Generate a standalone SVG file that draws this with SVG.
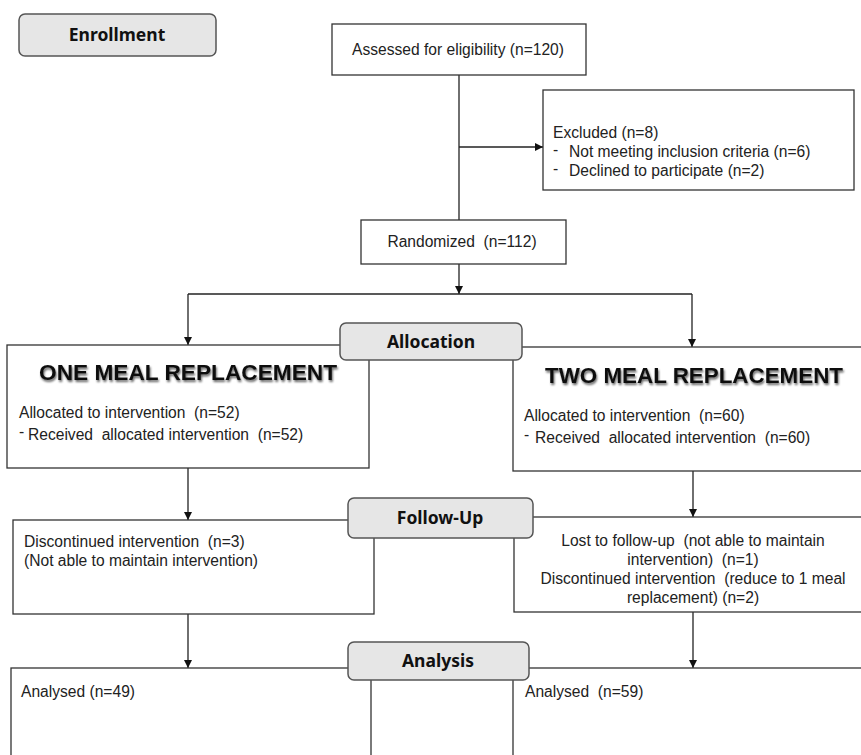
<svg xmlns="http://www.w3.org/2000/svg" width="861" height="755" viewBox="0 0 861 755" xml:space="preserve">
<defs>
<marker id="arr" markerWidth="8" markerHeight="8" refX="8" refY="4" orient="auto" markerUnits="userSpaceOnUse">
<path d="M0,0 L8,4 L0,8 Z" fill="#111"/>
</marker>
<filter id="sh" x="-5%" y="-30%" width="110%" height="160%">
<feGaussianBlur in="SourceAlpha" stdDeviation="1.2" result="b"/>
<feOffset in="b" dx="1" dy="1.5" result="o"/>
<feComponentTransfer in="o" result="o2"><feFuncA type="linear" slope="0.6"/></feComponentTransfer>
<feMerge><feMergeNode in="o2"/><feMergeNode in="SourceGraphic"/></feMerge>
</filter>
</defs>
<style>
.box{fill:#fff;stroke:#333;stroke-width:1.3}
.lab{fill:#e6e6e6;stroke:#555;stroke-width:1.5}
.labt{font-family:"Noto Sans","Open Sans",sans-serif;font-weight:700;font-size:17.5px;fill:#111;text-anchor:middle}
.t{font-family:"Liberation Sans",Arial,sans-serif;font-size:15.6px;fill:#222;white-space:pre}
.c{text-anchor:middle}
.ti{font-family:"Liberation Sans",Arial,sans-serif;font-weight:700;font-size:22px;fill:#111;text-anchor:middle}
.ln{stroke:#222;stroke-width:1.3;fill:none}
</style>
<rect width="861" height="755" fill="#fff"/>

<g id="connectors">
<line class="ln" x1="459" y1="75" x2="459" y2="220"/>
<line class="ln" x1="459" y1="147" x2="543" y2="147" marker-end="url(#arr)"/>
<line class="ln" x1="459" y1="264" x2="459" y2="294" marker-end="url(#arr)"/>
<line class="ln" x1="188" y1="294" x2="692" y2="294"/>
<line class="ln" x1="188" y1="294" x2="188" y2="345" marker-end="url(#arr)"/>
<line class="ln" x1="692" y1="294" x2="692" y2="347" marker-end="url(#arr)"/>
<line class="ln" x1="188" y1="468" x2="188" y2="520" marker-end="url(#arr)"/>
<line class="ln" x1="693" y1="471" x2="693" y2="517" marker-end="url(#arr)"/>
<line class="ln" x1="188" y1="614" x2="188" y2="668" marker-end="url(#arr)"/>
<line class="ln" x1="693" y1="612" x2="693" y2="668" marker-end="url(#arr)"/>
</g>

<g id="enrollment">
<rect class="lab" x="19" y="14" width="197" height="42" rx="6"/>
<text class="labt" x="117" y="41">Enrollment</text>
</g>

<g id="assessed">
<rect class="box" x="332" y="24" width="254" height="51"/>
<text class="t c" x="458" y="55">Assessed for eligibility (n=120)</text>
</g>

<g id="excluded">
<rect class="box" x="543" y="90" width="311" height="100"/>
<text class="t" x="553" y="138">Excluded (n=8)</text>
<text class="t" x="553" y="155">-</text>
<text class="t" x="569" y="157">Not meeting inclusion criteria (n=6)</text>
<text class="t" x="553" y="174">-</text>
<text class="t" x="569" y="176">Declined to participate (n=2)</text>
</g>

<g id="randomized">
<rect class="box" x="361" y="220" width="205" height="44"/>
<text class="t c" x="462" y="247">Randomized  (n=112)</text>
</g>

<g id="one-meal">
<rect class="box" x="7" y="345" width="362" height="123"/>
<text class="ti" x="188" y="380" textLength="298" lengthAdjust="spacingAndGlyphs" filter="url(#sh)">ONE MEAL REPLACEMENT</text>
<text class="t" x="19" y="418">Allocated to intervention  (n=52)</text>
<text class="t" x="19" y="437">-</text>
<text class="t" x="28" y="440">Received  allocated intervention  (n=52)</text>
</g>

<g id="two-meal">
<rect class="box" x="513" y="347" width="360" height="124"/>
<text class="ti" x="694" y="383" textLength="298" lengthAdjust="spacingAndGlyphs" filter="url(#sh)">TWO MEAL REPLACEMENT</text>
<text class="t" x="524" y="421">Allocated to intervention  (n=60)</text>
<text class="t" x="524" y="440">-</text>
<text class="t" x="535" y="443">Received  allocated intervention  (n=60)</text>
</g>

<g id="allocation">
<rect class="lab" x="340" y="323" width="182" height="37" rx="6"/>
<text class="labt" x="431" y="348">Allocation</text>
</g>

<g id="followup-one">
<rect class="box" x="13" y="520" width="361" height="94"/>
<text class="t" x="24" y="547">Discontinued intervention  (n=3)</text>
<text class="t" x="24" y="566">(Not able to maintain intervention)</text>
</g>

<g id="followup-two">
<rect class="box" x="514" y="517" width="360" height="95"/>
<text class="t c" x="693" y="546">Lost to follow-up  (not able to maintain</text>
<text class="t c" x="693" y="565">intervention)  (n=1)</text>
<text class="t c" x="693" y="584">Discontinued intervention  (reduce to 1 meal</text>
<text class="t c" x="693" y="603">replacement) (n=2)</text>
</g>

<g id="followup">
<rect class="lab" x="348" y="498" width="185" height="40" rx="6"/>
<text class="labt" x="440" y="524">Follow-Up</text>
</g>

<g id="analysed-one">
<rect class="box" x="11" y="668" width="360" height="100"/>
<text class="t" x="21" y="697">Analysed (n=49)</text>
</g>

<g id="analysed-two">
<rect class="box" x="513" y="668" width="360" height="100"/>
<text class="t" x="525" y="697">Analysed  (n=59)</text>
</g>

<g id="analysis">
<rect class="lab" x="348" y="642" width="181" height="38" rx="6"/>
<text class="labt" x="438" y="667">Analysis</text>
</g>
</svg>
